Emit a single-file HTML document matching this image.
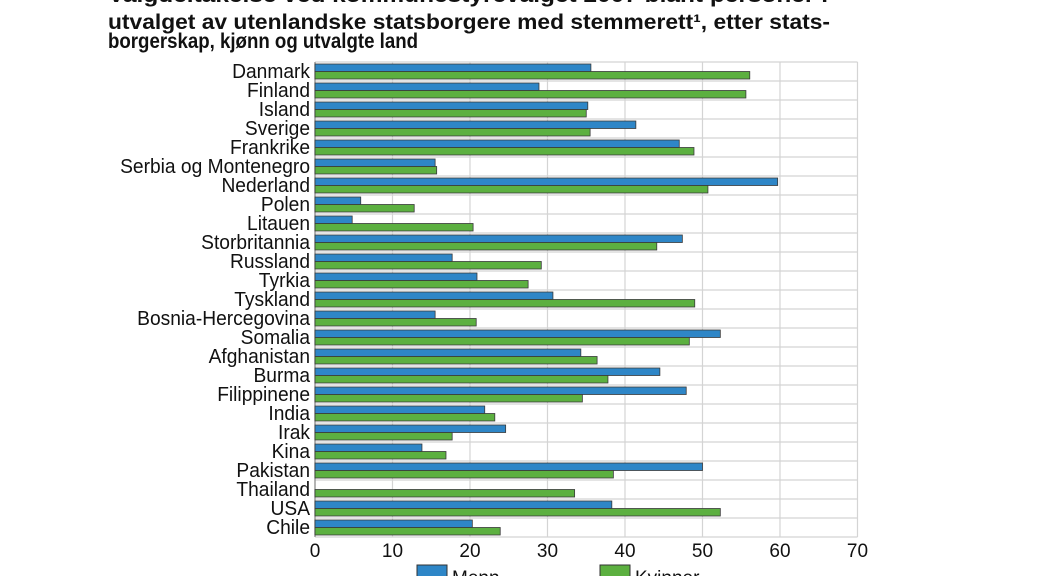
<!DOCTYPE html>
<html><head><meta charset="utf-8"><style>
html,body{margin:0;padding:0;background:#fff;width:1038px;height:576px;overflow:hidden}
svg{display:block;font-family:"Liberation Sans",Arial,sans-serif}
</style></head><body>
<svg width="1038" height="576" viewBox="0 0 1038 576" xmlns="http://www.w3.org/2000/svg">
<g font-weight="bold" font-size="21" fill="#111">
<text x="108" y="2" textLength="720" lengthAdjust="spacingAndGlyphs">Valgdeltakelse ved kommunestyrevalget 2007 blant personer i</text>
<text x="108" y="29" textLength="722" lengthAdjust="spacingAndGlyphs">utvalget av utenlandske statsborgere med stemmerett¹, etter stats-</text>
<text x="108" y="48" textLength="310" lengthAdjust="spacingAndGlyphs">borgerskap, kjønn og utvalgte land</text>
</g>
<g id="grid" stroke="#d4d4d4" stroke-width="1.2"></g>
<g id="bars"></g>
<g transform="translate(310,0) scale(0.96,1)"><g id="labels" font-size="20" fill="#111" text-anchor="end"></g></g>
<g id="ticks" font-size="19" fill="#111" text-anchor="middle"></g>
<rect x="417" y="565" width="30" height="14" fill="#2e86c7" stroke="#333" stroke-width="1"/>
<text x="452" y="584" font-size="19" fill="#111">Menn</text>
<rect x="600" y="565" width="30" height="14" fill="#5cb040" stroke="#333" stroke-width="1"/>
<text x="635" y="584" font-size="19" fill="#111">Kvinner</text>
<script>
(function(){
var d=[["Danmark",35.6,56.1],["Finland",28.9,55.6],["Island",35.2,35],["Sverige",41.4,35.5],["Frankrike",47,48.9],["Serbia og Montenegro",15.5,15.7],["Nederland",59.7,50.7],["Polen",5.9,12.8],["Litauen",4.8,20.4],["Storbritannia",47.4,44.1],["Russland",17.7,29.2],["Tyrkia",20.9,27.5],["Tyskland",30.7,49],["Bosnia-Hercegovina",15.5,20.8],["Somalia",52.3,48.3],["Afghanistan",34.3,36.4],["Burma",44.5,37.8],["Filippinene",47.9,34.5],["India",21.9,23.2],["Irak",24.6,17.7],["Kina",13.8,16.9],["Pakistan",50,38.5],["Thailand",0,33.5],["USA",38.3,52.3],["Chile",20.3,23.9]];
var x0=315,s=7.75,pt=62,rh=19,ns="http://www.w3.org/2000/svg";
function el(p,t,a,txt){var e=document.createElementNS(ns,t);for(var k in a)e.setAttribute(k,a[k]);if(txt!==undefined)e.textContent=txt;document.getElementById(p).appendChild(e);}
var pb=pt+rh*25;
for(var i=0;i<=7;i++){var x=x0+i*10*s;el("grid","line",{x1:x,y1:pt,x2:x,y2:pb});el("ticks","text",{x:x,y:557},String(i*10));}
for(var j=0;j<=25;j++){var y=pt+j*rh;el("grid","line",{x1:x0,y1:y,x2:x0+70*s,y2:y});}
el("grid","line",{x1:x0,y1:pt,x2:x0,y2:pb,stroke:"#888"});
d.forEach(function(r,j){var y=pt+j*rh+2;
if(r[1]>0)el("bars","rect",{x:x0,y:y,width:r[1]*s,height:7.5,fill:"#2e86c7",stroke:"#3a3a3a","stroke-width":0.8});
el("bars","rect",{x:x0,y:y+7.5,width:r[2]*s,height:7.5,fill:"#5cb040",stroke:"#3a3a3a","stroke-width":0.8});
el("labels","text",{x:0,y:pt+j*rh+16},r[0]);});
})();
</script>
</svg>
</body></html>
